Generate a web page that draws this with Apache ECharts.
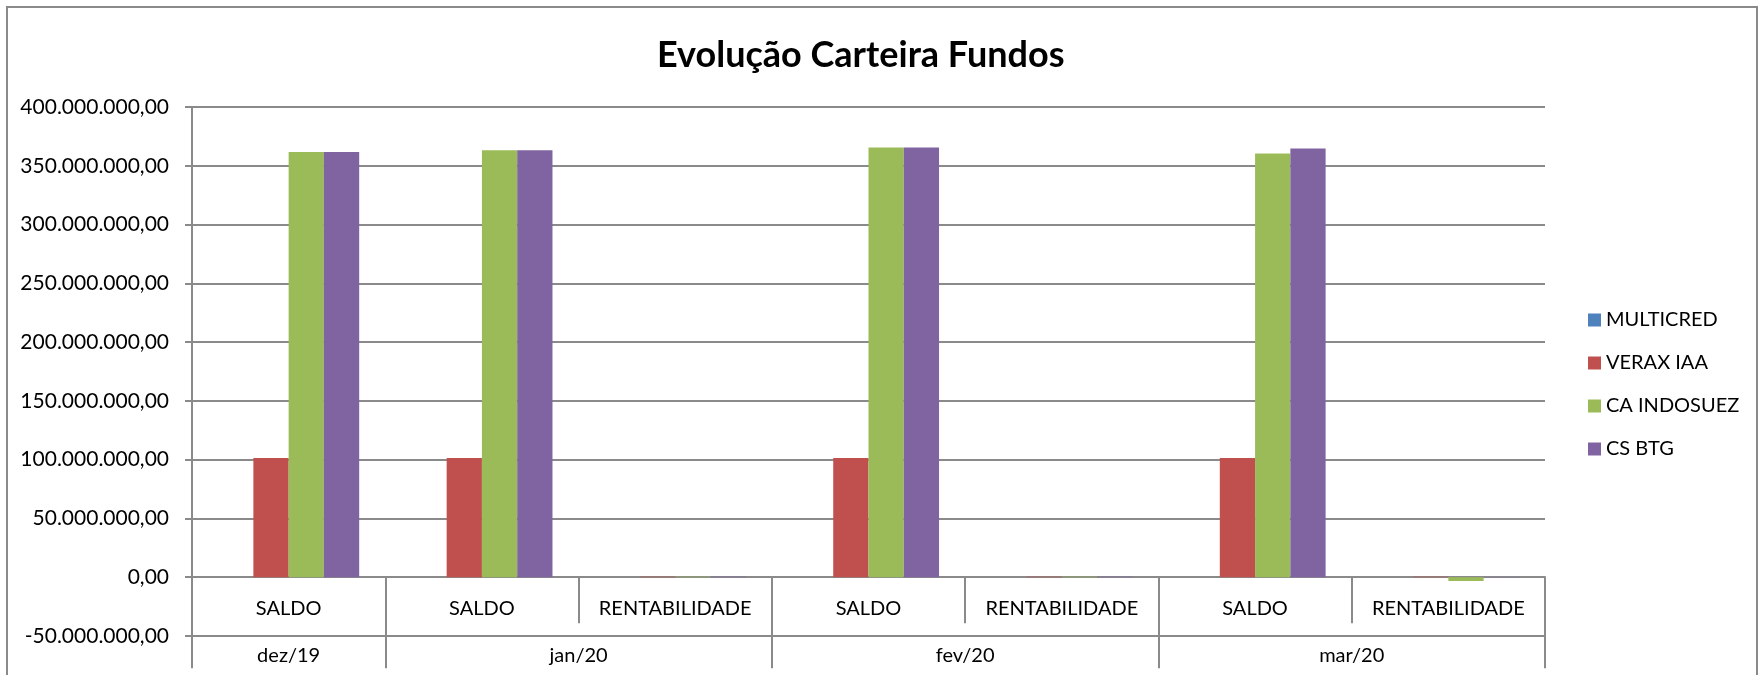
<!DOCTYPE html>
<html>
<head>
<meta charset="utf-8">
<script src="https://cdn.jsdelivr.net/npm/echarts@6/dist/echarts.min.js"></script>
<style>
  html, body { margin: 0; padding: 0; background: #fff; }
  #chart { width: 1763px; height: 675px; }
</style>
</head>
<body>
<div id="chart"></div>
<script>
// categorias (nível 1) e meses (nível 2)
const categories = ['SALDO', 'SALDO', 'RENTABILIDADE', 'SALDO', 'RENTABILIDADE', 'SALDO', 'RENTABILIDADE'];
const months = ['dez/19', 'jan/20', 'fev/20', 'mar/20'];
const monthSpans = [1, 2, 2, 2];

const yMin = -50000000;
const yMax = 400000000;
const yStep = 50000000;

const seriesNames = ['MULTICRED', 'VERAX IAA', 'CA INDOSUEZ', 'CS BTG'];
const multicred = [0, 0, 0, 0, 0, 0, 0];
const veraxIaa = [101500000, 101500000, 400000, 101500000, 400000, 101500000, 300000];
const caIndosuez = [361800000, 363200000, 500000, 365500000, 500000, 360400000, -3200000];
const csBtg = [361800000, 363200000, 500000, 365500000, 500000, 364700000, 200000];

const colors = ['#4F81BD', '#C0504D', '#9BBB59', '#8064A2'];
const gray = '#8a8a8a';
const font = 'Lato';

// geometria do grid (px)
const gridTop = 107;
const gridBottom = 39;
const plotH = 675 - gridTop - gridBottom;
// distância da linha do zero até o fundo do grid
const zeroOffset = plotH * (0 - yMin) / (yMax - yMin);

// eixo dos meses: 2 slots por categoria + 1 (fronteiras nos pares, centros nos ímpares)
const monthSlots = new Array(categories.length * 2 + 1).fill('');
const monthBounds = [0, categories.length * 2];
let start = 0;
months.forEach((m, i) => {
  monthSlots[2 * start + monthSpans[i]] = m;
  monthBounds.push(2 * start);
  start += monthSpans[i];
});

function fmtBR(v) {
  const neg = v < 0;
  const parts = Math.abs(v).toFixed(2).split('.');
  const int = parts[0].replace(/\B(?=(\d{3})+(?!\d))/g, '.');
  return (neg ? '-' : '') + int + ',' + parts[1];
}

const chart = echarts.init(document.getElementById('chart'));
const data = [multicred, veraxIaa, caIndosuez, csBtg];

const option = {
  animation: false,
  color: colors,
  title: {
    text: 'Evolução Carteira Fundos',
    left: 652,
    top: 32,
    textStyle: { fontFamily: font, fontSize: 36, fontWeight: 'bold', color: '#000' }
  },
  legend: {
    orient: 'vertical',
    left: 1583,
    top: 305,
    itemWidth: 13,
    itemHeight: 13,
    itemGap: 23,
    icon: 'rect',
    textStyle: { fontFamily: font, fontSize: 20, color: '#000' },
    data: seriesNames
  },
  grid: {
    left: 192,
    right: 218,
    top: gridTop,
    bottom: gridBottom,
    outerBoundsMode: 'none'
  },
  graphic: [{
    type: 'rect',
    shape: { x: 7, y: 7, width: 1750, height: 700 },
    style: { fill: 'none', stroke: gray, lineWidth: 2 },
    silent: true
  }],
  xAxis: [
    {
      type: 'category',
      data: categories,
      position: 'bottom',
      offset: -zeroOffset,
      axisLine: { onZero: false, lineStyle: { color: gray, width: 2 } },
      axisTick: { show: true, interval: 0, length: 46, lineStyle: { color: gray, width: 2 } },
      axisLabel: { interval: 0, margin: 21, fontFamily: font, fontSize: 20, color: '#000', hideOverlap: false },
      splitLine: { show: false }
    },
    {
      type: 'category',
      data: monthSlots,
      boundaryGap: false,
      position: 'bottom',
      offset: -zeroOffset,
      axisLine: { show: false, onZero: false },
      axisTick: {
        show: true,
        length: 91,
        interval: (i) => monthBounds.indexOf(i) >= 0,
        lineStyle: { color: gray, width: 2 }
      },
      axisLabel: { interval: 0, margin: 68, fontFamily: font, fontSize: 20, color: '#000', hideOverlap: false },
      splitLine: { show: false }
    }
  ],
  yAxis: {
    type: 'value',
    min: yMin,
    max: yMax,
    interval: yStep,
    axisLine: { show: true, lineStyle: { color: gray, width: 2 } },
    axisTick: { show: true, length: 7, lineStyle: { color: gray, width: 2 } },
    axisLabel: { margin: 23, fontFamily: font, fontSize: 21, color: '#000', formatter: fmtBR },
    splitLine: { show: true, lineStyle: { color: gray, width: 2 } }
  },
  series: seriesNames.map((name, i) => ({
    name: name,
    type: 'bar',
    xAxisIndex: 0,
    data: data[i],
    barGap: 0,
    barCategoryGap: '27%'
  }))
};

chart.setOption(option);
</script>
</body>
</html>
